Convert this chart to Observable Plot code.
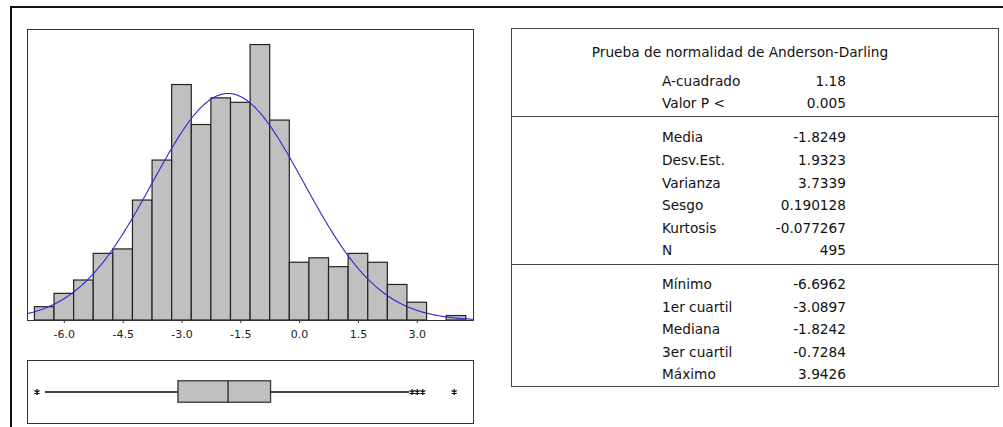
<!DOCTYPE html>
<html>
<head>
<meta charset="utf-8">
<script src="https://cdn.jsdelivr.net/npm/d3@7"></script>
<script src="https://cdn.jsdelivr.net/npm/@observablehq/plot@0.6"></script>
<style>
  html, body { margin: 0; padding: 0; background: #fff; }
  #page { position: relative; width: 1003px; height: 427px; overflow: hidden; font-family: "DejaVu Sans", sans-serif; }
  #outer { position: absolute; left: 10px; top: 6px; width: 1000px; height: 430px; border-top: 2px solid #111; border-left: 2px solid #111; box-sizing: border-box; }
  .abs { position: absolute; }
  #table { position: absolute; left: 511px; top: 28px; width: 488px; height: 359px; border: 1.5px solid #444; box-sizing: border-box; }
  .div { position: absolute; left: 511px; width: 488px; height: 0; border-top: 1.5px solid #444; }
  .row { position: absolute; height: 22px; line-height: 22px; font-size: 13.7px; color: #111; white-space: nowrap; }
</style>
</head>
<body>
<div id="page">
  <div id="outer"></div>
  <div id="hist" class="abs" style="left:0;top:0"></div>
  <div id="box" class="abs" style="left:0;top:345px"></div>
  <div id="table"></div>
</div>
<script>
// ---------- Data ----------
const binCenters = [-6.5, -6.0, -5.5, -5.0, -4.5, -4.0, -3.5, -3.0, -2.5, -2.0, -1.5, -1.0, -0.5, 0.0, 0.5, 1.0, 1.5, 2.0, 2.5, 3.0, 3.5, 4.0];
const binCounts  = [3, 6, 9, 15, 16, 27, 36, 53, 44, 50, 49, 62, 45, 13, 14, 12, 15, 13, 8, 4, 0, 1];
const binWidth = 0.5;
const xTicks = [-6.0, -4.5, -3.0, -1.5, 0.0, 1.5, 3.0];

const mean = -1.8249;
const stdev = 1.9323;
const n = 495;

const q1 = -3.0897;
const median = -1.8242;
const q3 = -0.7284;
const whiskerLow = -6.48;
const whiskerHigh = 2.81;
const outliers = [-6.6962, 2.87, 3.00, 3.14, 3.9426];

const titleText = "Prueba de normalidad de Anderson-Darling";
const section1Labels = ["A-cuadrado", "Valor P <"];
const section1Values = ["1.18", "0.005"];
const section2Labels = ["Media", "Desv.Est.", "Varianza", "Sesgo", "Kurtosis", "N"];
const section2Values = ["-1.8249", "1.9323", "3.7339", "0.190128", "-0.077267", "495"];
const section3Labels = ["Mínimo", "1er cuartil", "Mediana", "3er cuartil", "Máximo"];
const section3Values = ["-6.6962", "-3.0897", "-1.8242", "-0.7284", "3.9426"];

// ---------- Histogram ----------
const xDomain = [-6.939, 4.434];
const bins = binCenters.map((c, i) => ({x1: c - binWidth / 2, x2: c + binWidth / 2, count: binCounts[i]})).filter(d => d.count > 0);

// fitted normal curve (from Media and Desv.Est.), scaled to counts
const curveX = d3.range(xDomain[0], xDomain[1] + 0.001, 0.02);
const curve = curveX.map(x => ({x, y: n * binWidth * Math.exp(-0.5 * ((x - mean) / stdev) ** 2) / (stdev * Math.sqrt(2 * Math.PI))}));

const hist = Plot.plot({
  width: 500,
  height: 345,
  marginLeft: 27,
  marginRight: 27,
  marginTop: 29,
  marginBottom: 25,
  style: {fontFamily: "DejaVu Sans, sans-serif", fontSize: "11px", color: "#222", background: "transparent"},
  x: {domain: xDomain},
  y: {domain: [0, 65.5], axis: null},
  marks: [
    Plot.rect(bins, {x1: "x1", x2: "x2", y1: 0, y2: "count", fill: "#c0c0c0", stroke: "#222", strokeWidth: 1.2}),
    Plot.line(curve, {x: "x", y: "y", stroke: "#2a2ad0", strokeWidth: 1.1, clip: true}),
    Plot.frame({stroke: "#333"}),
    Plot.axisX({ticks: xTicks, tickSize: 3, tickPadding: 6.5, tickFormat: d => d.toFixed(1), fill: "#222", stroke: "#333"})
  ]
});
document.getElementById("hist").appendChild(hist);

// ---------- Boxplot ----------
const box = Plot.plot({
  width: 500,
  height: 82,
  marginLeft: 27,
  marginRight: 27,
  marginTop: 15,
  marginBottom: 4,
  style: {background: "transparent"},
  x: {domain: xDomain, axis: null},
  y: {domain: [0, 1], axis: null},
  marks: [
    Plot.ruleY([0.5], {x1: whiskerLow, x2: q1, stroke: "#444", strokeWidth: 1.8}),
    Plot.ruleY([0.5], {x1: q3, x2: whiskerHigh, stroke: "#444", strokeWidth: 1.8}),
    Plot.rect([{q1, q3}], {x1: "q1", x2: "q3", y1: 0.33, y2: 0.67, fill: "#c0c0c0", stroke: "#333", strokeWidth: 1.3}),
    Plot.ruleX([median], {y1: 0.33, y2: 0.67, stroke: "#222", strokeWidth: 1.3}),
    Plot.dot(outliers, {x: d => d, y: 0.5, symbol: "asterisk", r: 2.8, stroke: "#111", strokeWidth: 1.3}),
    Plot.frame({stroke: "#333"})
  ]
});
document.getElementById("box").appendChild(box);

// ---------- Statistics table ----------
const page = document.getElementById("page");
function addText(text, top, opts) {
  const el = document.createElement("div");
  el.className = "row";
  el.textContent = text;
  el.style.top = (top - 11) + "px";
  if (opts.left != null) el.style.left = opts.left + "px";
  if (opts.right != null) { el.style.left = (opts.right - 200) + "px"; el.style.width = "200px"; el.style.textAlign = "right"; }
  if (opts.center != null) { el.style.left = (opts.center - 200) + "px"; el.style.width = "400px"; el.style.textAlign = "center"; }
  page.appendChild(el);
}
function addDivider(top) {
  const el = document.createElement("div");
  el.className = "div";
  el.style.top = top + "px";
  page.appendChild(el);
}
const labelLeft = 662, valueRight = 846, rowStep = 22.6;
addText(titleText, 52.3, {center: 740});
section1Labels.forEach((l, i) => { addText(l, 80.7 + i * rowStep, {left: labelLeft}); addText(section1Values[i], 80.7 + i * rowStep, {right: valueRight}); });
addDivider(116);
section2Labels.forEach((l, i) => { addText(l, 137.3 + i * rowStep, {left: labelLeft}); addText(section2Values[i], 137.3 + i * rowStep, {right: valueRight}); });
addDivider(264.3);
section3Labels.forEach((l, i) => { addText(l, 284 + i * rowStep, {left: labelLeft}); addText(section3Values[i], 284 + i * rowStep, {right: valueRight}); });
</script>
</body>
</html>
